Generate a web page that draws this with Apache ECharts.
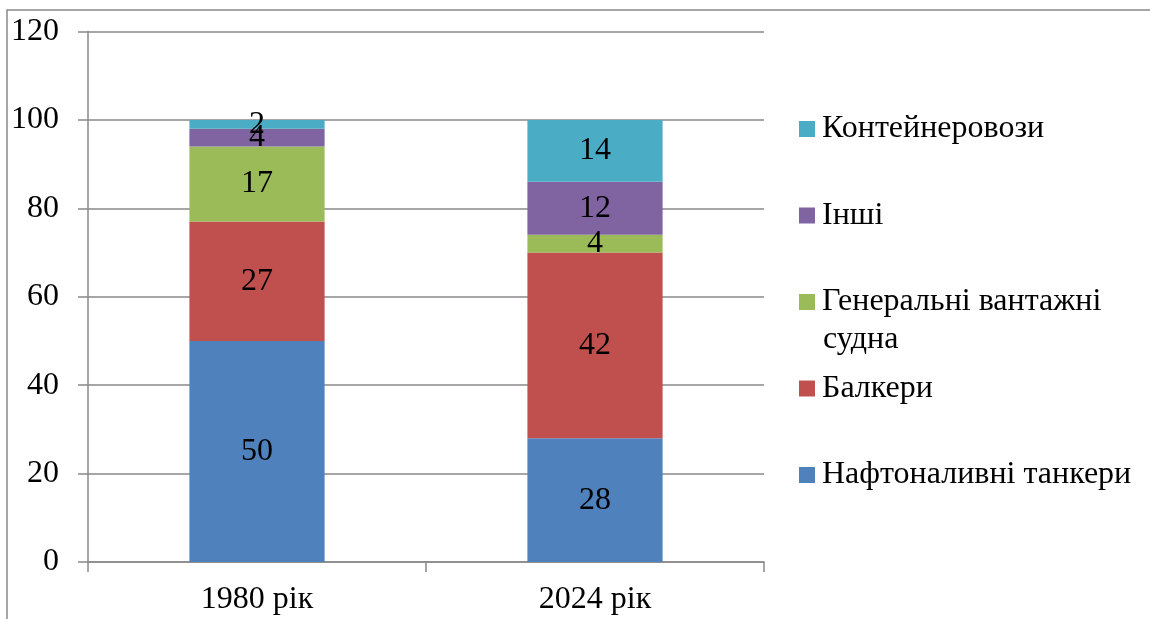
<!DOCTYPE html>
<html>
<head>
<meta charset="utf-8">
<style>
  html, body { margin: 0; padding: 0; background: #fff; }
  #chart { width: 1150px; height: 619px; }
</style>
<script src="https://cdn.jsdelivr.net/npm/echarts@6/dist/echarts.min.js"></script>
</head>
<body>
<div id="chart"></div>
<script>
// Fleet structure by ship type, percent of total
const categories = ['1980 рік', '2024 рік'];
const tankers = [50, 28];       // Нафтоналивні танкери
const bulkers = [27, 42];       // Балкери
const generalCargo = [17, 4];   // Генеральні вантажні судна
const others = [4, 12];         // Інші
const containerShips = [2, 14]; // Контейнеровози
const yTicks = [0, 20, 40, 60, 80, 100, 120];

const FONT = 'Times New Roman, Liberation Serif, serif';
const FONT_SIZE = 32;
const GRID_COLOR = '#898989';

const seriesDefs = [
  { name: 'Нафтоналивні танкери', data: tankers, color: '#4F81BD' },
  { name: 'Балкери', data: bulkers, color: '#C0504D' },
  { name: 'Генеральні вантажні', data: generalCargo, color: '#9BBB59' },
  { name: 'Інші', data: others, color: '#8064A2' },
  { name: 'Контейнеровози', data: containerShips, color: '#4BACC6' }
];

const chart = echarts.init(document.getElementById('chart'), null, { renderer: 'canvas' });

chart.setOption({
  animation: false,
  backgroundColor: '#fff',
  textStyle: { fontFamily: FONT },
  grid: { left: 88, right: 386, top: 31.5, bottom: 57, containLabel: false },
  xAxis: {
    type: 'category',
    data: categories,
    boundaryGap: true,
    axisLine: { show: true, lineStyle: { color: GRID_COLOR, width: 1.5 } },
    axisTick: { show: true, length: 10, inside: false, lineStyle: { color: GRID_COLOR, width: 1.5 } },
    axisLabel: { color: '#000', fontFamily: FONT, fontSize: FONT_SIZE, margin: 22 }
  },
  yAxis: {
    type: 'value',
    min: yTicks[0],
    max: yTicks[yTicks.length - 1],
    interval: yTicks[1] - yTicks[0],
    axisLine: { show: true, lineStyle: { color: GRID_COLOR, width: 1.5 } },
    axisTick: { show: true, length: 10, lineStyle: { color: GRID_COLOR, width: 1.5 } },
    splitLine: { show: true, lineStyle: { color: GRID_COLOR, width: 1.5 } },
    axisLabel: { color: '#000', fontFamily: FONT, fontSize: FONT_SIZE, margin: 29 }
  },
  legend: {
    orient: 'vertical',
    left: 799,
    top: 110,
    padding: 0,
    itemWidth: 16,
    itemHeight: 16,
    itemGap: 48.5,
    icon: 'rect',
    selectedMode: false,
    data: ['Контейнеровози', 'Інші', 'Генеральні вантажні', 'Балкери', 'Нафтоналивні танкери'],
    textStyle: { color: '#000', fontFamily: FONT, fontSize: FONT_SIZE, lineHeight: 38, padding: [0, 0, 0, 2] }
  },
  graphic: [
    {
      type: 'rect',
      silent: true,
      shape: { x: 7, y: 10, width: 1300, height: 800 },
      style: { fill: 'none', stroke: GRID_COLOR, lineWidth: 1.5 }
    },
    {
      // second line of the general cargo legend entry
      type: 'text',
      left: 823,
      top: 324,
      style: { text: 'судна', fill: '#000', font: FONT_SIZE + 'px ' + FONT }
    }
  ],
  series: seriesDefs.map(s => ({
    name: s.name,
    type: 'bar',
    stack: 'total',
    barWidth: '40%',
    data: s.data,
    itemStyle: { color: s.color },
    label: {
      show: true,
      position: 'inside',
      color: '#000',
      fontFamily: FONT,
      fontSize: FONT_SIZE
    }
  }))
});
</script>
</body>
</html>
